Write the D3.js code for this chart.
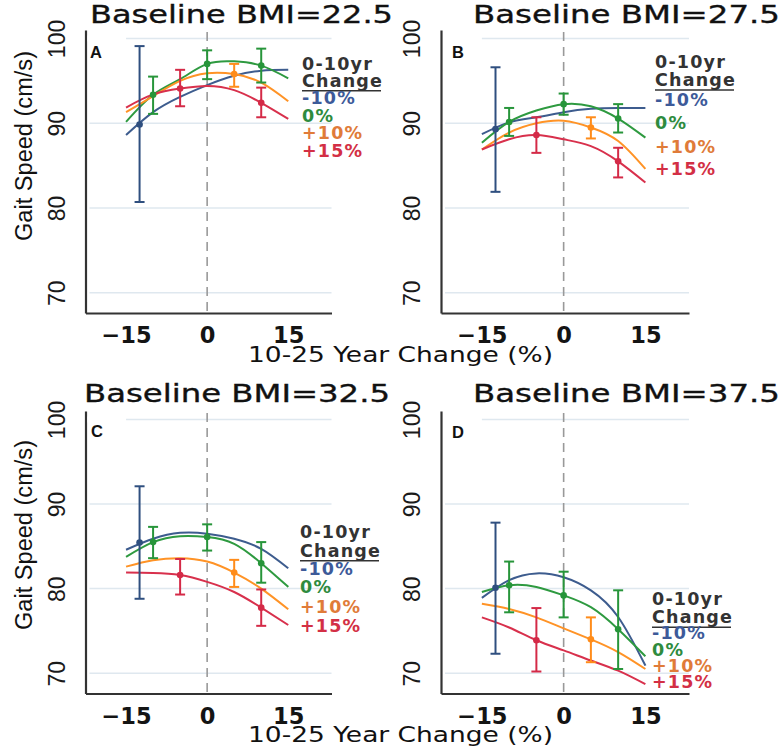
<!DOCTYPE html>
<html><head><meta charset="utf-8">
<script src="https://cdn.jsdelivr.net/npm/d3@7"></script>
<style>body{margin:0;background:#fff}</style>
</head><body><svg id="c" width="784" height="750"></svg>
<script>
// ---------- data ----------
const curveX = [-15, -10, -5, 0, 5, 10, 15];
const seriesNames = ["-10%", "0%", "+10%", "+15%"];
const panelTitles = ["Baseline BMI=22.5", "Baseline BMI=27.5", "Baseline BMI=32.5", "Baseline BMI=37.5"];
const panelLetters = ["A", "B", "C", "D"];
const yTicks = [70, 80, 90, 100];
const xTicks = [-15, 0, 15];
const xLabel = "10-25 Year Change (%)";
const yLabel = "Gait Speed (cm/s)";
const legendHeader = ["0-10yr", "Change"];

// fitted curves (gait speed at curveX), one array per series and panel
const curveA_m10 = [88.6, 91.3, 93.1, 94.5, 95.6, 96.2, 96.3];
const curveA_0   = [90.15, 93.35, 95.2, 97.0, 97.3, 96.8, 95.3];
const curveA_p10 = [91.3, 93.2, 95.0, 95.9, 95.8, 94.8, 92.6];
const curveA_p15 = [91.85, 93.4, 94.1, 94.4, 93.9, 92.4, 90.5];

const curveB_m10 = [88.7, 90.1, 90.7, 91.3, 91.7, 91.8, 91.8];
const curveB_0   = [87.7, 90.15, 91.5, 92.25, 92.0, 90.55, 88.3];
const curveB_p10 = [86.9, 88.9, 90.0, 90.3, 89.5, 87.9, 84.6];
const curveB_p15 = [86.9, 88.1, 88.6, 88.1, 87.3, 85.5, 83.0];

const curveC_m10 = [84.6, 85.9, 86.6, 86.5, 85.9, 84.7, 82.4];
const curveC_0   = [83.75, 85.5, 86.2, 86.1, 85.3, 83.0, 80.2];
const curveC_p10 = [82.6, 83.35, 83.6, 83.2, 81.9, 80.0, 77.55];
const curveC_p15 = [81.9, 81.85, 81.6, 80.8, 79.6, 77.75, 75.7];

const curveD_m10 = [78.9, 81.0, 81.8, 81.35, 79.8, 76.65, 70.9];
const curveD_0   = [79.6, 80.4, 80.2, 79.2, 77.8, 75.2, 72.0];
const curveD_p10 = [78.2, 77.6, 76.6, 75.3, 74.0, 72.5, 70.5];
const curveD_p15 = [76.6, 75.4, 73.9, 72.7, 71.5, 70.3, 68.7];

// estimates with 95% CI: [series index, x, estimate, lower, upper]
const pointsA = [[0, -12.5, 89.85, 80.7, 99.1], [1, -10, 93.35, 91.1, 95.5], [3, -5, 94.1, 92.0, 96.3],
                 [1, 0, 97.0, 95.2, 98.6], [2, 5, 95.8, 94.3, 97.0], [1, 10, 96.8, 94.8, 98.8], [3, 10, 92.4, 90.7, 94.2]];
const pointsB = [[0, -12.5, 89.3, 81.9, 96.6], [1, -10, 90.15, 88.5, 91.8], [3, -5, 88.6, 86.5, 90.7],
                 [1, 0, 92.25, 91.0, 93.5], [2, 5, 89.5, 88.2, 90.7], [1, 10, 90.55, 88.9, 92.25], [3, 10, 85.5, 83.6, 87.1]];
const pointsC = [[0, -12.5, 85.45, 78.8, 92.1], [1, -10, 85.5, 83.6, 87.3], [3, -5, 81.6, 79.3, 83.5],
                 [1, 0, 86.1, 84.5, 87.6], [2, 5, 81.9, 80.2, 83.4], [1, 10, 83.0, 80.7, 85.5], [3, 10, 77.75, 75.6, 79.9]];
const pointsD = [[0, -12.5, 80.1, 72.3, 87.8], [1, -10, 80.4, 77.2, 83.2], [3, -5, 73.9, 70.2, 77.7],
                 [1, 0, 79.2, 76.6, 82.0], [2, 5, 74.0, 71.3, 76.6], [1, 10, 75.2, 70.5, 79.8]];

const curvesByPanel = [
  [curveA_m10, curveA_0, curveA_p10, curveA_p15],
  [curveB_m10, curveB_0, curveB_p10, curveB_p15],
  [curveC_m10, curveC_0, curveC_p10, curveC_p15],
  [curveD_m10, curveD_0, curveD_p10, curveD_p15]
];
const pointsByPanel = [pointsA, pointsB, pointsC, pointsD];

// ---------- styles / layout ----------
const lineColors = ["#3d5c8e", "#2e9a40", "#ff9326", "#d8304c"];
const barColors  = ["#2f4f7f", "#27953a", "#ff8c1a", "#d42a47"];
const textColors = ["#3d5a99", "#2e8b3e", "#e07b39", "#d32f45"];

const panels = [
  {x0: 85.5, x1: 331.5, yTop: 30, yBot: 313, titleX0: 90, titleX1: 393, titleY: 23, labX: 90, labY: 57.5,
   legX: 302, legY: [70, 86.7, 104, 121.7, 139.3, 156.7], showY: true, yLabCy: 146},
  {x0: 441, x1: 689, yTop: 30, yBot: 313, titleX0: 473, titleX1: 780, titleY: 23, labX: 452, labY: 58,
   legX: 655, legY: [68.3, 86, 106, 129.3, 152.7, 175], showY: false},
  {x0: 85.5, x1: 331.5, yTop: 411, yBot: 693.5, titleX0: 84, titleX1: 390, titleY: 402, labX: 91, labY: 437,
   legX: 300, legY: [538, 556.7, 575, 593, 612.7, 631.7], showY: true, yLabCy: 535},
  {x0: 441, x1: 689, yTop: 411, yBot: 693.5, titleX0: 473, titleX1: 780, titleY: 402, labX: 452, labY: 438,
   legX: 652, legY: [605, 623.3, 639.3, 655.7, 671.7, 688.3], showY: false}
];

const svg = d3.select("#c");
svg.append("rect").attr("width", 784).attr("height", 750).attr("fill", "#fff");

panels.forEach((p, i) => {
  const g = svg.append("g");
  const x = d3.scaleLinear().domain([-22.5, 23]).range([p.x0, p.x1]);
  const y = d3.scaleLinear().domain([67.6, 101]).range([p.yBot, p.yTop]);

  // gridlines
  g.selectAll(".grid").data(yTicks).join("line")
    .attr("x1", d => d === 100 ? x(-15) : p.x0 + 4).attr("x2", p.x1)
    .attr("y1", d => y(d)).attr("y2", d => y(d))
    .attr("stroke", "#dfe8ef").attr("stroke-width", 1.5);

  // dashed zero line
  g.append("line").attr("x1", x(0)).attr("x2", x(0))
    .attr("y1", p.yTop + 2).attr("y2", p.yBot)
    .attr("stroke", "#999").attr("stroke-width", 1.6).attr("stroke-dasharray", "9,6");

  // axes (lines only)
  const xAxis = g.append("g").attr("transform", `translate(0,${p.yBot})`)
    .call(d3.axisBottom(x).tickValues(xTicks).tickSize(0).tickPadding(8));
  xAxis.select(".domain").attr("stroke", "#333").attr("stroke-width", 2.2);
  xAxis.selectAll("text").attr("font-family", "DejaVu Sans").attr("font-weight", "bold")
    .attr("font-size", 22.5).attr("fill", "#141414").attr("dy", 0).attr("y", 30);

  const yAxis = g.append("g").attr("transform", `translate(${p.x0},0)`)
    .call(d3.axisLeft(y).tickValues(yTicks).tickSize(0).tickFormat(d3.format("d")));
  yAxis.select(".domain").attr("stroke", "#333").attr("stroke-width", 2.2);
  yAxis.selectAll("text")
    .attr("transform", "translate(-21,0) rotate(-90)")
    .attr("x", 0).attr("y", 0).attr("dy", 0)
    .attr("text-anchor", "middle")
    .attr("font-family", "Liberation Sans Narrow, Liberation Sans").attr("font-size", 23)
    .attr("fill", "#1a1a1a");

  // curves
  const line = d3.line().x((d, k) => x(curveX[k])).y(d => y(d)).curve(d3.curveNatural);
  curvesByPanel[i].forEach((c, s) => {
    g.append("path").attr("d", line(c)).attr("fill", "none")
      .attr("stroke", lineColors[s]).attr("stroke-width", 2);
  });

  // error bars + points
  const pts = pointsByPanel[i];
  const eb = g.selectAll(".eb").data(pts).join("g");
  eb.append("line").attr("x1", d => x(d[1])).attr("x2", d => x(d[1]))
    .attr("y1", d => y(d[3])).attr("y2", d => y(d[4]))
    .attr("stroke", d => barColors[d[0]]).attr("stroke-width", 2);
  [3, 4].forEach(k => {
    eb.append("line").attr("x1", d => x(d[1]) - 5).attr("x2", d => x(d[1]) + 5)
      .attr("y1", d => y(d[k])).attr("y2", d => y(d[k]))
      .attr("stroke", d => barColors[d[0]]).attr("stroke-width", 2);
  });
  eb.append("circle").attr("cx", d => x(d[1])).attr("cy", d => y(d[2])).attr("r", 3.3)
    .attr("fill", d => barColors[d[0]]);

  // panel letter (with white box covering top gridline)
  g.append("rect").attr("x", p.x0 + 2).attr("y", y(100) - 3).attr("width", x(-15) - p.x0 - 3).attr("height", 6).attr("fill", "#fff");
  g.append("text").attr("x", p.labX).attr("y", p.labY).text(panelLetters[i])
    .attr("font-family", "Liberation Sans").attr("font-weight", "bold").attr("font-size", 16.5).attr("fill", "#111");

  // title
  g.append("text").attr("x", p.titleX0).attr("y", p.titleY).text(panelTitles[i])
    .attr("font-family", "DejaVu Sans").attr("font-size", 25).attr("fill", "#111")
    .attr("stroke", "#111").attr("stroke-width", 0.35)
    .attr("textLength", p.titleX1 - p.titleX0).attr("lengthAdjust", "spacingAndGlyphs");

  // legend
  const lg = g.append("g").attr("font-family", "DejaVu Sans").attr("font-weight", "bold")
    .attr("font-size", 17.5).attr("letter-spacing", 1.2);
  legendHeader.forEach((t, k) => {
    lg.append("text").attr("x", p.legX).attr("y", p.legY[k]).text(t).attr("fill", "#333");
  });
  lg.append("line").attr("x1", p.legX).attr("x2", p.legX + 79)
    .attr("y1", p.legY[1] + 4).attr("y2", p.legY[1] + 4).attr("stroke", "#333").attr("stroke-width", 1.6);
  seriesNames.forEach((t, s) => {
    lg.append("text").attr("x", p.legX).attr("y", p.legY[s + 2]).text(t).attr("fill", textColors[s]);
  });

  // y label
  if (p.showY) {
    g.append("text").attr("transform", `translate(32,${p.yLabCy}) rotate(-90)`)
      .attr("text-anchor", "middle").text(yLabel)
      .attr("font-family", "Liberation Sans").attr("font-size", 23.5).attr("fill", "#111")
      .attr("textLength", 190).attr("lengthAdjust", "spacingAndGlyphs");
  }
});

// shared x labels
[362, 742].forEach(yy => {
  svg.append("text").attr("x", 248).attr("y", yy).text(xLabel)
    .attr("font-family", "DejaVu Sans").attr("font-size", 21).attr("fill", "#111")
    .attr("textLength", 305).attr("lengthAdjust", "spacingAndGlyphs");
});
</script>
</body></html>
